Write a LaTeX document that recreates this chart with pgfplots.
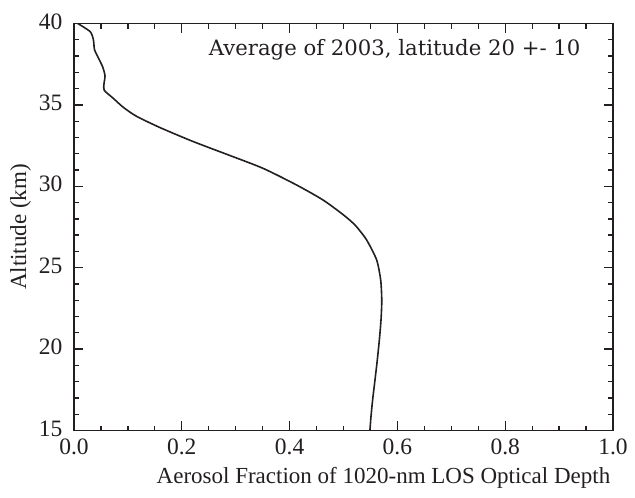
\documentclass[border=0pt]{standalone}
\usepackage{fontspec}
\setmainfont{Liberation Serif}
\newfontfamily\annotfont{DejaVu Serif}
\usepackage{pgfplots}
\pgfplotsset{compat=1.18}

\definecolor{ink}{RGB}{35,31,32}

\begin{document}
\begin{tikzpicture}
\begin{axis}[
    scale only axis,
    width=539pt, height=407pt,
    xmin=0, xmax=1,
    ymin=15, ymax=40,
    xtick={0,0.2,...,1.0},
    ytick={15,20,...,40},
    minor x tick num=3,
    minor y tick num=4,
    tick align=inside,
    major tick length=9pt,
    minor tick length=5pt,
    axis line style={line width=1.7pt, ink},
    every tick/.style={line width=1.3pt, ink},
    xticklabel style={yshift=-5pt, /pgf/number format/.cd, fixed, fixed zerofill, precision=1},
    yticklabel style={xshift=-8pt, yshift=2pt},
    /pgf/number format/assume math mode=true,
    ticklabel style={font=\fontsize{23.5}{26}\selectfont, text=ink},
    label style={font=\fontsize{23}{26}\selectfont, text=ink},
    xlabel={Aerosol Fraction of 1020-nm LOS Optical Depth},
    ylabel={Altitude (km)},
    xlabel style={xshift=40pt, yshift=-5pt},
    ylabel style={yshift=1pt},
]
\addplot[ink, line width=1.6pt, line join=round, smooth, tension=0.4] table {
x y
0.007 40.0
0.030 39.5
0.036 39.0
0.038 38.4
0.045 37.9
0.053 37.35
0.0575 36.8
0.0557 36.3
0.056 35.9
0.073 35.4
0.0915 34.85
0.116 34.3
0.160 33.6
0.221 32.75
0.287 31.92
0.351 31.1
0.413 30.08
0.462 29.16
0.500 28.24
0.522 27.6
0.543 26.70
0.5616 25.47
0.569 24.24
0.571 23.0
0.5696 21.79
0.5665 20.56
0.5627 19.33
0.5584 18.10
0.554 16.87
0.551 15.85
0.549 15.0
};
\node[anchor=east, inner sep=0pt, text=ink, font=\annotfont\fontsize{21.2}{24}\selectfont]
    at (rel axis cs:0.94,0.935) {Average of 2003, latitude 20 +- 10};
\end{axis}
\pgfresetboundingbox
\path[use as bounding box] (-74pt,-67.5pt) rectangle (561pt,430.5pt);
\end{tikzpicture}
\end{document}
